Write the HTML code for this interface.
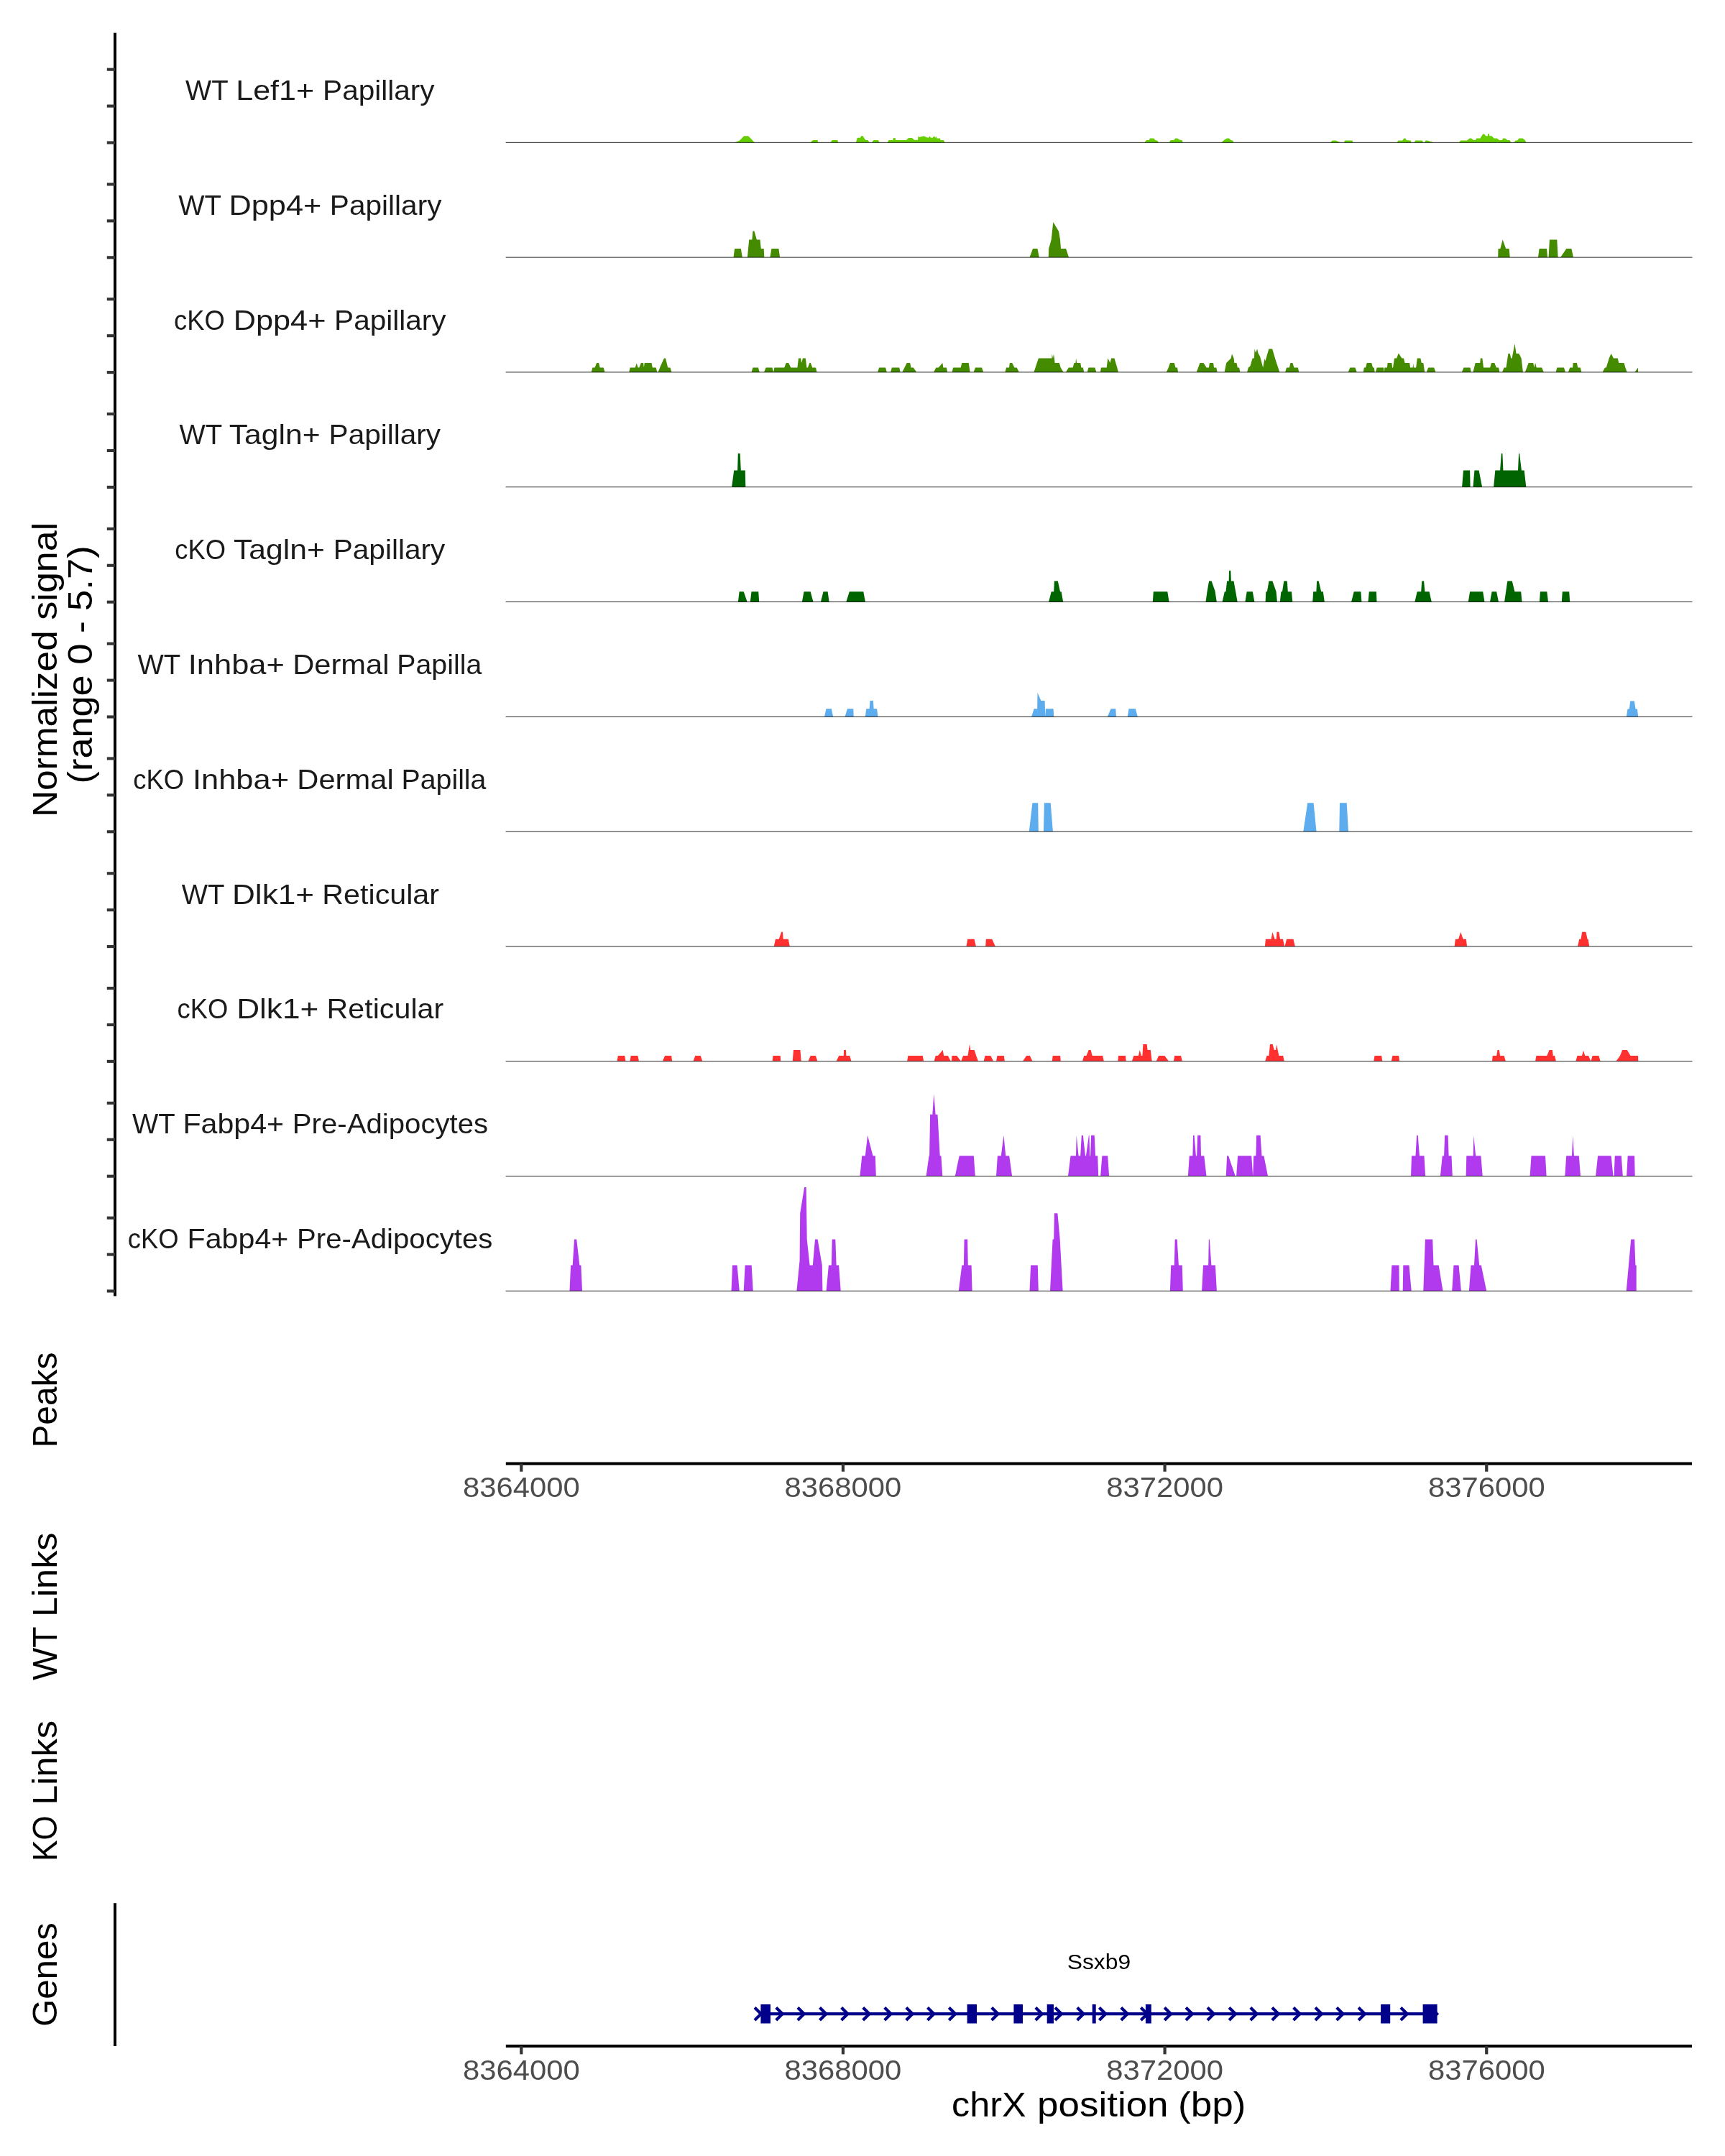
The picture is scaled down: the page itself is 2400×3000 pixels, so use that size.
<!DOCTYPE html>
<html><head><meta charset="utf-8"><title>Coverage plot</title>
<style>html,body{margin:0;padding:0;background:#fff}svg{display:block;will-change:transform}</style>
</head><body>
<svg width="2400" height="3000" viewBox="0 0 2400 3000" font-family="'Liberation Sans', sans-serif">
<rect width="2400" height="3000" fill="#fff"/>
<rect x="158" y="45.7" width="4" height="1757.8" fill="#000"/>
<rect x="148.8" y="196.44" width="11.2" height="4.1" fill="#333"/>
<rect x="148.8" y="145.53" width="11.2" height="4.1" fill="#333"/>
<rect x="148.8" y="94.62" width="11.2" height="4.1" fill="#333"/>
<rect x="148.8" y="356.24" width="11.2" height="4.1" fill="#333"/>
<rect x="148.8" y="305.33" width="11.2" height="4.1" fill="#333"/>
<rect x="148.8" y="254.42" width="11.2" height="4.1" fill="#333"/>
<rect x="148.8" y="516.04" width="11.2" height="4.1" fill="#333"/>
<rect x="148.8" y="465.13" width="11.2" height="4.1" fill="#333"/>
<rect x="148.8" y="414.22" width="11.2" height="4.1" fill="#333"/>
<rect x="148.8" y="675.84" width="11.2" height="4.1" fill="#333"/>
<rect x="148.8" y="624.93" width="11.2" height="4.1" fill="#333"/>
<rect x="148.8" y="574.02" width="11.2" height="4.1" fill="#333"/>
<rect x="148.8" y="835.64" width="11.2" height="4.1" fill="#333"/>
<rect x="148.8" y="784.73" width="11.2" height="4.1" fill="#333"/>
<rect x="148.8" y="733.82" width="11.2" height="4.1" fill="#333"/>
<rect x="148.8" y="995.44" width="11.2" height="4.1" fill="#333"/>
<rect x="148.8" y="944.53" width="11.2" height="4.1" fill="#333"/>
<rect x="148.8" y="893.62" width="11.2" height="4.1" fill="#333"/>
<rect x="148.8" y="1155.24" width="11.2" height="4.1" fill="#333"/>
<rect x="148.8" y="1104.33" width="11.2" height="4.1" fill="#333"/>
<rect x="148.8" y="1053.42" width="11.2" height="4.1" fill="#333"/>
<rect x="148.8" y="1315.04" width="11.2" height="4.1" fill="#333"/>
<rect x="148.8" y="1264.13" width="11.2" height="4.1" fill="#333"/>
<rect x="148.8" y="1213.22" width="11.2" height="4.1" fill="#333"/>
<rect x="148.8" y="1474.84" width="11.2" height="4.1" fill="#333"/>
<rect x="148.8" y="1423.93" width="11.2" height="4.1" fill="#333"/>
<rect x="148.8" y="1373.02" width="11.2" height="4.1" fill="#333"/>
<rect x="148.8" y="1634.64" width="11.2" height="4.1" fill="#333"/>
<rect x="148.8" y="1583.73" width="11.2" height="4.1" fill="#333"/>
<rect x="148.8" y="1532.82" width="11.2" height="4.1" fill="#333"/>
<rect x="148.8" y="1794.44" width="11.2" height="4.1" fill="#333"/>
<rect x="148.8" y="1743.53" width="11.2" height="4.1" fill="#333"/>
<rect x="148.8" y="1692.62" width="11.2" height="4.1" fill="#333"/>
<text transform="translate(431.50,139.00)" font-size="37.95" fill="#1a1a1a"><tspan x="-173.62" textLength="59.02" lengthAdjust="spacingAndGlyphs">WT</tspan> <tspan x="-103.32" textLength="109.04" lengthAdjust="spacingAndGlyphs">Lef1+</tspan> <tspan x="17.62" textLength="155.55" lengthAdjust="spacingAndGlyphs">Papillary</tspan></text>
<text transform="translate(431.50,298.80)" font-size="37.95" fill="#1a1a1a"><tspan x="-183.38" textLength="59.02" lengthAdjust="spacingAndGlyphs">WT</tspan> <tspan x="-113.08" textLength="128.88" lengthAdjust="spacingAndGlyphs">Dpp4+</tspan> <tspan x="27.38" textLength="155.55" lengthAdjust="spacingAndGlyphs">Papillary</tspan></text>
<text transform="translate(431.50,458.60)" font-size="37.95" fill="#1a1a1a"><tspan x="-189.58" textLength="70.82" lengthAdjust="spacingAndGlyphs">cKO</tspan> <tspan x="-106.88" textLength="128.88" lengthAdjust="spacingAndGlyphs">Dpp4+</tspan> <tspan x="33.58" textLength="155.55" lengthAdjust="spacingAndGlyphs">Papillary</tspan></text>
<text transform="translate(431.50,618.40)" font-size="37.95" fill="#1a1a1a"><tspan x="-182.08" textLength="59.02" lengthAdjust="spacingAndGlyphs">WT</tspan> <tspan x="-112.78" textLength="126.89" lengthAdjust="spacingAndGlyphs">Tagln+</tspan> <tspan x="26.08" textLength="155.55" lengthAdjust="spacingAndGlyphs">Papillary</tspan></text>
<text transform="translate(431.50,778.20)" font-size="37.95" fill="#1a1a1a"><tspan x="-188.28" textLength="70.82" lengthAdjust="spacingAndGlyphs">cKO</tspan> <tspan x="-106.58" textLength="126.89" lengthAdjust="spacingAndGlyphs">Tagln+</tspan> <tspan x="32.28" textLength="155.55" lengthAdjust="spacingAndGlyphs">Papillary</tspan></text>
<text transform="translate(431.50,938.00)" font-size="37.95" fill="#1a1a1a"><tspan x="-240.07" textLength="59.02" lengthAdjust="spacingAndGlyphs">WT</tspan> <tspan x="-169.77" textLength="134.16" lengthAdjust="spacingAndGlyphs">Inhba+</tspan> <tspan x="-24.38" textLength="134.34" lengthAdjust="spacingAndGlyphs">Dermal</tspan> <tspan x="120.84" textLength="117.92" lengthAdjust="spacingAndGlyphs">Papilla</tspan></text>
<text transform="translate(431.50,1097.80)" font-size="37.95" fill="#1a1a1a"><tspan x="-246.27" textLength="70.82" lengthAdjust="spacingAndGlyphs">cKO</tspan> <tspan x="-163.57" textLength="134.16" lengthAdjust="spacingAndGlyphs">Inhba+</tspan> <tspan x="-18.18" textLength="134.34" lengthAdjust="spacingAndGlyphs">Dermal</tspan> <tspan x="127.04" textLength="117.92" lengthAdjust="spacingAndGlyphs">Papilla</tspan></text>
<text transform="translate(431.50,1257.60)" font-size="37.95" fill="#1a1a1a"><tspan x="-178.85" textLength="59.02" lengthAdjust="spacingAndGlyphs">WT</tspan> <tspan x="-108.55" textLength="114.11" lengthAdjust="spacingAndGlyphs">Dlk1+</tspan> <tspan x="16.79" textLength="162.76" lengthAdjust="spacingAndGlyphs">Reticular</tspan></text>
<text transform="translate(431.50,1417.40)" font-size="37.95" fill="#1a1a1a"><tspan x="-185.05" textLength="70.82" lengthAdjust="spacingAndGlyphs">cKO</tspan> <tspan x="-102.35" textLength="114.11" lengthAdjust="spacingAndGlyphs">Dlk1+</tspan> <tspan x="22.99" textLength="162.76" lengthAdjust="spacingAndGlyphs">Reticular</tspan></text>
<text transform="translate(431.50,1577.20)" font-size="37.95" fill="#1a1a1a"><tspan x="-247.43" textLength="59.02" lengthAdjust="spacingAndGlyphs">WT</tspan> <tspan x="-177.13" textLength="140.76" lengthAdjust="spacingAndGlyphs">Fabp4+</tspan> <tspan x="-24.71" textLength="272.41" lengthAdjust="spacingAndGlyphs">Pre-Adipocytes</tspan></text>
<text transform="translate(431.50,1737.00)" font-size="37.95" fill="#1a1a1a"><tspan x="-253.63" textLength="70.82" lengthAdjust="spacingAndGlyphs">cKO</tspan> <tspan x="-170.93" textLength="140.76" lengthAdjust="spacingAndGlyphs">Fabp4+</tspan> <tspan x="-18.51" textLength="272.41" lengthAdjust="spacingAndGlyphs">Pre-Adipocytes</tspan></text>
<path d="M1022.2 198.3 L1028.7 195.7 L1035.2 189.2 L1041.0 189.2 L1044.9 193.1 L1049.8 198.3Z M1127.7 198.3 L1131.0 195.0 L1137.5 195.0 L1138.1 198.3Z M1155.3 198.3 L1157.9 195.0 L1165.4 195.0 L1166.0 198.3Z M1191.0 198.3 L1192.7 191.8 L1196.9 191.8 L1198.2 189.2 L1200.8 189.2 L1202.4 192.4 L1204.7 195.0 L1207.3 195.0 L1209.9 198.3Z M1213.1 198.3 L1215.4 195.0 L1221.9 195.0 L1223.5 198.3Z M1234.9 198.3 L1236.5 195.0 L1242.3 195.0 L1243.0 192.1 L1245.6 192.1 L1246.2 195.0 L1260.8 195.0 L1264.1 192.1 L1269.0 192.1 L1272.2 194.7 L1277.1 194.7 L1277.4 189.2 L1278.7 191.1 L1285.2 189.2 L1290.1 191.5 L1292.3 191.5 L1293.3 189.2 L1294.9 191.5 L1297.5 191.8 L1299.8 189.2 L1301.4 191.8 L1302.4 189.2 L1303.4 192.4 L1307.9 192.4 L1308.6 195.0 L1312.8 195.0 L1314.4 198.3Z M1592.5 198.3 L1595.1 195.0 L1599.0 195.0 L1599.6 192.4 L1605.5 192.4 L1607.1 195.0 L1610.3 195.7 L1611.9 198.3Z M1626.6 198.3 L1628.8 195.0 L1633.1 195.0 L1635.3 192.4 L1637.9 192.4 L1641.2 194.4 L1644.4 195.0 L1645.7 198.3Z M1699.6 198.3 L1702.9 195.0 L1706.8 192.4 L1710.0 192.4 L1712.6 195.0 L1715.2 195.7 L1716.5 198.3Z M1851.2 198.3 L1853.8 195.4 L1858.1 195.4 L1865.2 198.3Z M1870.1 198.3 L1871.0 195.4 L1881.4 195.4 L1882.4 198.3Z M1943.8 198.3 L1945.4 195.4 L1951.2 195.4 L1953.5 192.4 L1955.5 192.4 L1956.8 195.0 L1962.6 195.4 L1963.6 198.3Z M1967.8 198.3 L1969.1 195.4 L1978.8 195.4 L1980.1 198.3Z M1982.1 198.3 L1983.4 195.4 L1986.0 195.4 L1994.4 198.3Z M2029.8 198.3 L2032.4 195.4 L2041.2 195.4 L2044.4 192.4 L2047.0 192.4 L2050.3 195.0 L2052.9 195.0 L2054.2 192.4 L2059.4 192.4 L2063.2 186.6 L2065.2 186.6 L2067.1 189.2 L2069.7 189.2 L2070.4 186.0 L2071.7 186.0 L2072.3 189.2 L2075.6 189.2 L2078.5 192.4 L2082.7 192.4 L2086.0 195.0 L2089.9 195.0 L2091.2 192.4 L2094.1 192.4 L2097.3 195.0 L2100.6 195.0 L2102.2 198.3Z M2106.2 198.3 L2108.8 195.4 L2111.1 195.4 L2113.4 192.4 L2118.6 192.4 L2121.8 195.0 L2123.4 198.3Z" fill="#66CD00"/>
<rect x="703.6" y="197.86" width="1650.9" height="0.86" fill="#000"/>
<path d="M1020.5 358.1 L1022.1 346.1 L1030.8 346.1 L1032.8 358.1Z M1039.9 358.1 L1042.2 333.4 L1046.4 333.4 L1047.4 321.4 L1049.4 321.4 L1052.9 333.4 L1057.5 333.4 L1058.8 346.1 L1062.7 346.1 L1063.3 358.1Z M1071.4 358.1 L1073.4 346.1 L1083.4 346.1 L1085.1 358.1Z M1432.5 358.1 L1437.0 346.1 L1443.5 346.1 L1445.8 358.1Z M1458.8 358.1 L1459.1 346.1 L1462.7 333.4 L1465.3 309.1 L1473.1 322.1 L1475.0 333.4 L1476.0 346.1 L1483.1 346.1 L1487.0 358.1Z M2084.2 358.1 L2084.5 346.1 L2087.4 346.1 L2090.6 333.4 L2095.2 346.1 L2099.7 346.1 L2100.7 358.1Z M2140.0 358.1 L2141.6 346.1 L2152.0 346.1 L2153.0 358.1Z M2154.6 358.1 L2155.9 333.4 L2166.3 333.4 L2167.6 358.1Z M2171.2 358.1 L2179.3 346.1 L2186.4 346.1 L2189.0 358.1Z" fill="#458B00"/>
<rect x="703.6" y="357.66" width="1650.9" height="0.86" fill="#000"/>
<path d="M822.7 517.9 L824.4 511.4 L827.6 511.4 L830.2 504.9 L833.1 504.9 L834.7 511.4 L839.6 511.4 L841.6 517.9Z M875.3 517.9 L876.6 511.4 L883.8 511.4 L885.7 505.6 L887.7 511.4 L889.3 511.4 L891.9 504.9 L895.1 504.9 L895.8 511.4 L896.8 504.9 L906.5 504.9 L907.8 511.4 L912.7 511.4 L914.3 517.9Z M915.6 517.9 L918.5 510.4 L924.0 498.4 L926.0 498.4 L929.2 511.4 L932.5 511.4 L934.4 517.9Z M1045.5 517.9 L1047.4 511.4 L1054.9 511.4 L1056.8 517.9Z M1063.0 517.9 L1065.6 511.4 L1074.4 511.4 L1076.3 517.9 L1077.3 511.4 L1091.2 511.4 L1093.8 504.9 L1097.1 504.9 L1100.3 511.4 L1109.4 511.4 L1111.0 498.4 L1114.0 498.4 L1115.3 504.9 L1116.9 498.4 L1120.8 498.4 L1122.4 511.4 L1124.0 511.4 L1126.3 504.9 L1127.9 504.9 L1130.2 511.4 L1135.1 511.4 L1136.4 517.9Z M1221.1 517.9 L1223.1 511.4 L1232.1 511.4 L1233.8 517.9Z M1239.0 517.9 L1240.9 511.4 L1251.3 511.4 L1252.6 517.9Z M1255.2 517.9 L1261.7 504.9 L1266.2 504.9 L1267.5 511.4 L1270.8 511.4 L1275.3 517.9Z M1299.0 517.9 L1302.3 511.4 L1305.8 511.4 L1311.4 504.9 L1312.3 511.4 L1316.9 511.4 L1318.2 517.9Z M1324.7 517.9 L1326.0 511.4 L1336.7 511.4 L1338.3 504.9 L1347.7 504.9 L1349.7 517.9Z M1354.6 517.9 L1356.9 511.4 L1366.0 511.4 L1368.2 517.9Z M1398.4 517.9 L1400.1 511.4 L1404.0 511.4 L1404.9 504.9 L1408.2 504.9 L1411.4 511.4 L1414.7 511.4 L1417.9 517.9Z M1438.4 517.9 L1444.9 498.4 L1463.4 498.4 L1463.7 492.6 L1465.0 498.4 L1466.0 492.6 L1466.9 498.4 L1467.6 504.9 L1473.8 504.9 L1475.7 511.4 L1478.0 515.3 L1479.6 517.9Z M1482.9 517.9 L1486.8 511.4 L1492.6 511.4 L1494.5 504.9 L1496.5 504.9 L1497.1 498.4 L1498.1 504.9 L1503.3 504.9 L1504.3 511.4 L1506.9 511.4 L1508.2 517.9Z M1512.7 517.9 L1514.4 511.4 L1523.4 511.4 L1525.4 517.9Z M1530.9 517.9 L1531.9 511.4 L1539.7 511.4 L1541.3 498.4 L1544.5 504.9 L1546.2 498.4 L1550.4 498.4 L1554.3 511.4 L1555.9 517.9Z M1622.8 517.9 L1625.7 511.4 L1628.0 504.9 L1633.8 504.9 L1635.5 511.4 L1638.1 511.4 L1639.0 517.9Z M1664.7 517.9 L1669.5 504.9 L1674.4 504.9 L1678.6 511.4 L1681.9 511.4 L1682.9 504.9 L1688.1 504.9 L1689.0 511.4 L1692.3 511.4 L1693.6 517.9Z M1703.6 517.9 L1706.2 504.9 L1712.7 498.4 L1714.0 492.6 L1716.6 498.4 L1717.3 504.9 L1720.5 504.9 L1721.8 511.4 L1724.1 511.4 L1725.4 517.9Z M1735.1 517.9 L1736.8 511.4 L1739.4 509.4 L1742.6 498.4 L1744.9 498.4 L1745.5 485.4 L1747.1 490.9 L1749.1 485.4 L1750.7 491.9 L1753.0 495.8 L1757.2 511.4 L1759.5 499.1 L1760.5 502.3 L1765.3 485.4 L1770.2 485.4 L1775.1 502.3 L1778.3 511.4 L1780.3 517.9Z M1788.1 517.9 L1790.0 511.4 L1793.9 511.4 L1795.5 504.9 L1798.4 504.9 L1800.4 511.4 L1805.9 511.4 L1807.2 517.9Z M1875.7 517.9 L1878.3 511.4 L1885.5 511.4 L1887.7 517.9Z M1896.8 517.9 L1897.8 511.4 L1900.1 511.4 L1901.7 504.9 L1908.2 504.9 L1910.1 511.4 L1911.8 511.4 L1912.7 517.9Z M1914.0 517.9 L1915.6 511.4 L1925.1 511.4 L1925.7 517.9 L1926.4 511.4 L1929.9 511.4 L1930.6 504.9 L1936.4 504.9 L1937.1 511.4 L1938.1 511.4 L1940.0 498.4 L1943.2 498.4 L1945.8 491.6 L1950.4 498.4 L1953.0 498.4 L1954.6 504.9 L1961.1 504.9 L1962.1 511.4 L1965.6 511.4 L1966.3 505.6 L1966.9 511.4 L1970.2 511.4 L1971.8 498.4 L1976.4 498.4 L1977.7 504.9 L1980.3 504.9 L1982.2 517.9Z M1984.8 517.9 L1987.1 511.4 L1995.2 511.4 L1997.5 517.9Z M2033.8 517.9 L2036.4 511.4 L2045.5 511.4 L2046.8 517.9Z M2049.4 517.9 L2052.7 504.9 L2059.2 504.9 L2059.8 498.4 L2062.4 498.4 L2064.0 511.4 L2073.1 511.4 L2075.1 504.9 L2079.3 504.9 L2081.9 511.4 L2085.1 511.4 L2086.4 517.9Z M2090.0 517.9 L2092.6 511.4 L2095.5 511.4 L2098.4 491.9 L2100.7 491.9 L2102.3 498.4 L2103.6 498.4 L2107.5 478.3 L2109.5 491.9 L2113.4 491.9 L2116.6 498.4 L2118.2 511.4 L2118.9 517.9Z M2121.8 517.9 L2126.7 504.9 L2133.2 504.9 L2134.5 511.4 L2136.1 504.9 L2137.7 511.4 L2145.2 511.4 L2147.8 517.9Z M2164.7 517.9 L2166.3 511.4 L2176.0 511.4 L2178.0 517.9Z M2181.9 517.9 L2184.2 511.4 L2188.1 511.4 L2188.7 504.9 L2193.9 504.9 L2195.2 511.4 L2198.8 511.4 L2200.4 517.9Z M2229.6 517.9 L2232.9 511.4 L2234.8 511.4 L2238.7 498.4 L2241.6 491.9 L2244.9 498.4 L2250.7 498.4 L2252.3 504.9 L2259.5 504.9 L2261.4 511.4 L2263.7 517.9Z M2274.4 517.9 L2279.0 511.4 L2279.0 517.9Z" fill="#458B00"/>
<rect x="703.6" y="517.46" width="1650.9" height="0.86" fill="#000"/>
<path d="M1018.1 677.7 L1021.2 654.5 L1026.1 654.5 L1026.8 630.9 L1029.7 630.9 L1030.8 654.5 L1036.8 654.5 L1037.3 677.7Z M2034.1 677.7 L2036.0 654.5 L2045.1 654.5 L2045.6 677.7Z M2049.5 677.7 L2051.4 654.5 L2057.6 654.5 L2062.1 677.7Z M2078.1 677.7 L2080.3 654.5 L2087.1 654.5 L2088.8 630.9 L2090.4 630.9 L2091.4 654.5 L2112.0 654.5 L2113.1 630.9 L2114.1 630.9 L2116.9 654.5 L2120.7 654.5 L2123.3 677.7Z" fill="#006400"/>
<rect x="703.6" y="677.26" width="1650.9" height="0.86" fill="#000"/>
<path d="M1026.9 837.5 L1028.6 823.2 L1034.7 823.2 L1039.6 837.5Z M1043.8 837.5 L1045.5 823.2 L1055.2 823.2 L1056.2 837.5Z M1115.9 837.5 L1118.5 823.2 L1127.6 823.2 L1131.5 837.5Z M1141.9 837.5 L1145.5 823.2 L1151.6 823.2 L1153.6 837.5Z M1177.3 837.5 L1181.8 823.2 L1201.3 823.2 L1203.9 837.5Z M1459.1 837.5 L1462.7 823.2 L1466.2 823.2 L1466.9 808.6 L1471.8 808.6 L1475.0 823.2 L1476.6 823.2 L1479.2 837.5Z M1603.8 837.5 L1604.8 823.2 L1624.3 823.2 L1626.6 837.5Z M1677.5 837.5 L1679.5 823.2 L1682.1 808.6 L1685.6 808.6 L1690.5 822.2 L1692.8 837.5Z M1700.6 837.5 L1703.8 823.2 L1705.5 823.2 L1707.1 808.6 L1709.7 808.6 L1710.0 794.0 L1712.3 794.0 L1712.9 808.6 L1716.5 808.6 L1721.7 837.5Z M1732.4 837.5 L1734.7 823.2 L1742.8 823.2 L1745.4 837.5Z M1760.6 837.5 L1761.3 823.2 L1762.9 823.2 L1765.5 808.6 L1770.4 808.6 L1775.6 823.2 L1776.9 837.5Z M1780.8 837.5 L1782.4 823.2 L1784.0 823.2 L1786.3 808.6 L1790.8 808.6 L1791.8 823.2 L1797.0 823.2 L1798.3 837.5Z M1826.2 837.5 L1827.2 823.2 L1831.4 823.2 L1832.1 808.6 L1834.7 808.6 L1838.2 823.2 L1840.8 823.2 L1842.8 837.5Z M1880.1 837.5 L1883.7 823.2 L1893.4 823.2 L1894.4 837.5Z M1903.5 837.5 L1904.8 823.2 L1914.9 823.2 L1915.5 837.5Z M1968.4 837.5 L1971.7 823.2 L1977.2 823.2 L1978.2 808.6 L1981.1 808.6 L1982.4 823.2 L1988.6 823.2 L1991.8 837.5Z M2042.8 837.5 L2045.1 823.2 L2063.2 823.2 L2065.5 837.5Z M2073.0 837.5 L2075.6 823.2 L2082.1 823.2 L2085.0 837.5Z M2093.1 837.5 L2097.3 808.6 L2103.8 808.6 L2107.4 823.2 L2116.2 823.2 L2117.5 837.5Z M2141.9 837.5 L2142.9 823.2 L2152.3 823.2 L2154.0 837.5Z M2172.8 837.5 L2173.8 823.2 L2183.2 823.2 L2184.2 837.5Z" fill="#006400"/>
<rect x="703.6" y="837.06" width="1650.9" height="0.86" fill="#000"/>
<path d="M1147.1 997.3 L1149.4 986.3 L1156.8 986.3 L1159.1 997.3Z M1175.6 997.3 L1178.9 986.3 L1187.3 986.3 L1187.7 997.3Z M1203.9 997.3 L1205.2 986.3 L1209.7 986.3 L1210.4 974.9 L1214.9 974.9 L1215.6 986.3 L1220.1 986.3 L1221.4 997.3Z M1435.1 997.3 L1438.6 986.3 L1443.2 986.3 L1443.5 963.8 L1448.4 974.9 L1453.6 974.9 L1454.2 997.3 L1454.9 986.3 L1465.6 986.3 L1466.2 997.3Z M1540.9 997.3 L1545.5 986.3 L1552.3 986.3 L1552.9 997.3Z M1568.8 997.3 L1570.5 986.3 L1579.9 986.3 L1582.8 997.3Z M2262.9 997.3 L2264.5 986.4 L2266.9 986.4 L2268.2 975.4 L2273.9 975.4 L2275.5 986.4 L2278.0 986.4 L2279.1 997.3Z" fill="#5CACEE"/>
<rect x="703.6" y="996.86" width="1650.9" height="0.86" fill="#000"/>
<path d="M1431.8 1157.1 L1436.4 1117.2 L1444.2 1117.2 L1444.8 1157.1Z M1451.9 1157.1 L1452.9 1117.2 L1461.7 1117.2 L1464.9 1157.1Z M1813.3 1157.1 L1819.2 1117.2 L1827.6 1117.2 L1831.5 1157.1Z M1863.3 1157.1 L1864.0 1117.2 L1873.7 1117.2 L1876.0 1157.1Z" fill="#5CACEE"/>
<rect x="703.6" y="1156.66" width="1650.9" height="0.86" fill="#000"/>
<path d="M1076.7 1316.9 L1079.0 1306.8 L1083.8 1306.8 L1087.1 1296.8 L1089.0 1296.8 L1089.7 1306.8 L1096.8 1306.8 L1098.8 1316.9Z M1344.5 1316.9 L1346.2 1306.8 L1355.6 1306.8 L1357.9 1316.9Z M1371.2 1316.9 L1371.8 1306.8 L1380.3 1306.8 L1384.8 1316.9Z M1759.9 1316.9 L1760.9 1306.8 L1768.7 1306.8 L1770.3 1297.1 L1773.6 1306.8 L1775.8 1306.8 L1776.5 1296.8 L1779.4 1296.8 L1781.0 1306.8 L1784.9 1306.8 L1787.2 1316.9Z M1787.5 1316.9 L1790.1 1306.8 L1799.5 1306.8 L1801.8 1316.9Z M2023.6 1316.9 L2024.9 1306.8 L2029.1 1306.8 L2032.3 1297.1 L2035.6 1306.8 L2039.8 1306.8 L2041.1 1316.9Z M2195.0 1316.9 L2197.3 1306.8 L2199.5 1306.8 L2201.2 1296.8 L2206.4 1296.8 L2208.6 1306.8 L2209.6 1306.8 L2211.2 1316.9Z" fill="#FF3030"/>
<rect x="703.6" y="1316.46" width="1650.9" height="0.86" fill="#000"/>
<path d="M858.5 1476.7 L859.8 1468.9 L869.2 1468.9 L870.5 1476.7Z M876.4 1476.7 L877.7 1468.9 L887.4 1468.9 L889.0 1476.7Z M921.8 1476.7 L925.1 1468.9 L934.2 1468.9 L935.1 1476.7Z M964.4 1476.7 L967.3 1468.9 L974.7 1468.9 L977.3 1476.7Z M1074.7 1476.7 L1075.4 1468.9 L1085.8 1468.9 L1086.1 1476.7Z M1102.7 1476.7 L1104.0 1461.1 L1113.4 1461.1 L1114.7 1476.7Z M1124.4 1476.7 L1127.7 1468.9 L1134.8 1468.9 L1137.4 1476.7Z M1163.4 1476.7 L1167.3 1468.9 L1173.8 1468.9 L1174.1 1461.1 L1177.0 1461.1 L1177.3 1468.9 L1182.2 1468.9 L1184.5 1476.7Z M1262.1 1476.7 L1263.4 1468.9 L1283.8 1468.9 L1285.1 1476.7Z M1299.7 1476.7 L1301.7 1468.9 L1304.9 1468.9 L1311.8 1461.1 L1313.1 1468.9 L1318.9 1468.9 L1322.8 1476.7Z M1323.8 1476.7 L1324.4 1468.9 L1331.2 1468.9 L1337.1 1476.7 L1340.0 1468.9 L1346.5 1468.9 L1349.1 1453.0 L1350.4 1461.1 L1355.6 1461.1 L1358.2 1468.9 L1361.1 1476.7Z M1368.6 1476.7 L1370.5 1468.9 L1378.3 1468.9 L1382.2 1476.7Z M1386.1 1476.7 L1387.4 1468.9 L1396.8 1468.9 L1397.8 1476.7Z M1422.9 1476.7 L1428.1 1468.9 L1432.9 1468.9 L1436.5 1476.7Z M1463.8 1476.7 L1464.7 1468.9 L1475.1 1468.9 L1475.8 1476.7Z M1506.0 1476.7 L1508.2 1468.9 L1511.5 1468.9 L1514.7 1461.1 L1517.7 1461.1 L1519.6 1468.9 L1534.2 1468.9 L1535.8 1476.7Z M1555.3 1476.7 L1556.0 1468.9 L1566.0 1468.9 L1566.7 1476.7Z M1574.8 1476.7 L1577.4 1468.9 L1583.9 1468.9 L1585.8 1461.1 L1587.8 1468.9 L1589.4 1468.9 L1590.4 1453.0 L1595.6 1453.0 L1596.6 1461.1 L1600.8 1461.1 L1602.7 1476.7Z M1608.6 1476.7 L1612.1 1468.9 L1620.3 1468.9 L1626.1 1476.7Z M1632.9 1476.7 L1634.2 1468.9 L1643.0 1468.9 L1644.9 1476.7Z M1760.2 1476.7 L1762.5 1468.9 L1765.4 1468.9 L1767.0 1453.0 L1770.6 1453.0 L1772.9 1461.1 L1775.1 1461.1 L1776.1 1453.6 L1779.4 1468.9 L1785.2 1468.9 L1786.8 1476.7Z M1911.2 1476.7 L1912.5 1468.9 L1922.2 1468.9 L1923.2 1476.7Z M1935.8 1476.7 L1937.4 1468.9 L1946.2 1468.9 L1947.1 1476.7Z M2076.0 1476.7 L2076.7 1468.9 L2082.2 1468.9 L2083.5 1461.1 L2085.8 1461.1 L2087.1 1468.9 L2092.6 1468.9 L2094.9 1476.7Z M2136.1 1476.7 L2137.4 1468.9 L2152.3 1468.9 L2155.6 1461.1 L2159.8 1461.1 L2160.8 1468.9 L2163.1 1468.9 L2165.0 1476.7Z M2192.3 1476.7 L2194.5 1468.9 L2201.0 1468.9 L2203.0 1461.8 L2205.3 1468.9 L2210.1 1468.9 L2213.4 1476.7 L2215.6 1468.9 L2224.4 1468.9 L2226.7 1476.7Z M2248.4 1476.7 L2254.0 1468.9 L2257.2 1461.1 L2263.7 1461.1 L2268.6 1468.9 L2279.0 1468.9 L2279.3 1476.7Z" fill="#FF3030"/>
<rect x="703.6" y="1476.26" width="1650.9" height="0.86" fill="#000"/>
<path d="M1196.4 1636.5 L1199.3 1608.2 L1203.8 1608.2 L1207.1 1579.7 L1214.5 1608.2 L1217.8 1608.2 L1218.8 1636.5Z M1288.6 1636.5 L1292.5 1608.2 L1293.1 1608.2 L1294.1 1550.8 L1297.3 1550.8 L1299.3 1521.9 L1301.6 1550.8 L1304.5 1550.8 L1307.7 1608.2 L1309.4 1608.2 L1311.3 1636.5Z M1328.8 1636.5 L1334.7 1608.2 L1354.8 1608.2 L1356.8 1636.5Z M1386.0 1636.5 L1387.9 1608.2 L1392.8 1608.2 L1396.4 1579.7 L1399.3 1608.2 L1404.2 1608.2 L1408.1 1636.5Z M1486.0 1636.5 L1489.5 1608.2 L1497.0 1608.2 L1497.7 1579.7 L1500.6 1608.2 L1503.2 1608.2 L1504.8 1579.7 L1506.8 1579.7 L1510.0 1608.2 L1511.0 1608.2 L1514.9 1579.7 L1515.5 1579.7 L1516.2 1608.2 L1517.1 1608.2 L1518.1 1579.7 L1522.7 1579.7 L1524.0 1608.2 L1527.2 1608.2 L1528.2 1636.5Z M1531.1 1636.5 L1533.4 1608.2 L1541.2 1608.2 L1543.1 1636.5Z M1652.9 1636.5 L1654.8 1608.2 L1659.4 1608.2 L1660.0 1579.7 L1661.6 1579.7 L1663.9 1608.2 L1665.2 1608.2 L1666.2 1579.7 L1670.4 1579.7 L1671.0 1608.2 L1675.3 1608.2 L1678.5 1636.5Z M1705.8 1636.5 L1707.1 1608.2 L1709.1 1608.2 L1718.8 1636.5Z M1720.1 1636.5 L1722.1 1608.2 L1741.2 1608.2 L1743.2 1636.5 L1744.2 1608.2 L1747.4 1608.2 L1748.1 1579.7 L1753.6 1579.7 L1755.5 1608.2 L1758.4 1608.2 L1764.0 1636.5Z M1963.0 1636.5 L1964.0 1608.2 L1969.5 1608.2 L1971.1 1579.7 L1972.7 1579.7 L1975.0 1608.2 L1981.5 1608.2 L1983.1 1636.5Z M2003.9 1636.5 L2006.8 1608.2 L2009.1 1608.2 L2010.1 1579.7 L2014.6 1579.7 L2015.6 1608.2 L2019.5 1608.2 L2020.8 1636.5Z M2039.6 1636.5 L2040.3 1608.2 L2049.7 1608.2 L2050.3 1580.3 L2053.2 1608.2 L2060.4 1608.2 L2062.7 1636.5Z M2128.6 1636.5 L2130.5 1608.2 L2150.0 1608.2 L2151.6 1636.5Z M2177.3 1636.5 L2179.2 1608.2 L2187.0 1608.2 L2188.3 1580.3 L2189.9 1608.2 L2196.8 1608.2 L2199.0 1636.5Z M2220.1 1636.5 L2223.1 1608.2 L2241.6 1608.2 L2244.5 1636.5Z M2245.5 1636.5 L2246.8 1608.2 L2255.8 1608.2 L2257.8 1636.5Z M2263.1 1636.5 L2264.7 1608.2 L2274.1 1608.2 L2274.7 1636.5Z" fill="#B23AEE"/>
<rect x="703.6" y="1636.06" width="1650.9" height="0.86" fill="#000"/>
<path d="M792.5 1796.3 L794.1 1760.6 L796.7 1760.6 L799.0 1724.5 L802.2 1724.5 L806.4 1760.6 L808.4 1760.6 L810.0 1796.3Z M1017.5 1796.3 L1019.1 1760.6 L1025.6 1760.6 L1028.8 1796.3Z M1034.7 1796.3 L1036.6 1760.6 L1045.7 1760.6 L1047.7 1796.3Z M1108.4 1796.3 L1112.6 1753.8 L1113.2 1688.2 L1119.1 1652.1 L1121.7 1652.1 L1122.7 1724.5 L1126.6 1760.6 L1130.8 1760.6 L1134.0 1724.5 L1137.6 1724.5 L1143.8 1760.6 L1144.4 1796.3Z M1149.6 1796.3 L1152.9 1760.6 L1156.8 1760.6 L1157.7 1724.5 L1162.3 1724.5 L1163.6 1760.6 L1167.1 1760.6 L1169.7 1796.3Z M1333.8 1796.3 L1338.3 1760.6 L1340.9 1760.6 L1341.6 1724.5 L1346.1 1724.5 L1346.8 1760.6 L1351.6 1760.6 L1352.6 1796.3Z M1432.5 1796.3 L1434.1 1760.6 L1443.8 1760.6 L1444.8 1796.3Z M1461.0 1796.3 L1464.6 1724.5 L1466.2 1724.5 L1466.9 1688.2 L1471.4 1688.2 L1474.7 1724.5 L1478.6 1796.3Z M1627.9 1796.3 L1629.2 1760.6 L1633.8 1760.6 L1634.7 1724.5 L1637.7 1724.5 L1639.9 1760.6 L1644.8 1760.6 L1645.8 1796.3Z M1672.1 1796.3 L1674.0 1760.6 L1681.2 1760.6 L1681.8 1724.5 L1682.8 1724.5 L1685.4 1760.6 L1690.9 1760.6 L1692.9 1796.3Z M1934.5 1796.3 L1936.4 1760.6 L1946.5 1760.6 L1946.8 1796.3Z M1951.7 1796.3 L1952.3 1760.6 L1960.5 1760.6 L1963.7 1796.3Z M1980.3 1796.3 L1982.9 1724.5 L1993.2 1724.5 L1994.5 1760.6 L2001.7 1760.6 L2007.5 1796.3Z M2020.2 1796.3 L2022.5 1760.6 L2029.6 1760.6 L2032.9 1796.3Z M2043.9 1796.3 L2046.5 1760.6 L2051.0 1760.6 L2053.0 1724.5 L2054.6 1724.5 L2058.2 1760.6 L2060.8 1760.6 L2068.2 1796.3Z M2262.7 1796.3 L2269.2 1724.5 L2274.1 1724.5 L2275.4 1760.6 L2276.7 1760.6 L2276.7 1796.3Z" fill="#B23AEE"/>
<rect x="703.6" y="1795.86" width="1650.9" height="0.86" fill="#000"/>
<text transform="translate(78.70,932.10) rotate(-90)" font-size="47.43" fill="#000"><tspan x="-205.00" textLength="259.81" lengthAdjust="spacingAndGlyphs">Normalized</tspan> <tspan x="69.44" textLength="135.90" lengthAdjust="spacingAndGlyphs">signal</tspan></text>
<text transform="translate(127.70,924.80) rotate(-90)" font-size="47.43" fill="#000"><tspan x="-165.62" textLength="151.10" lengthAdjust="spacingAndGlyphs">(range</tspan> <tspan x="0.06" textLength="29.42" lengthAdjust="spacingAndGlyphs">0</tspan> <tspan x="43.78" textLength="16.78" lengthAdjust="spacingAndGlyphs">-</tspan> <tspan x="74.88" textLength="90.69" lengthAdjust="spacingAndGlyphs">5.7)</tspan></text>
<text transform="translate(79.00,1948.20) rotate(-90)" font-size="47.43" fill="#000"><tspan x="-66.34" textLength="132.81" lengthAdjust="spacingAndGlyphs">Peaks</tspan></text>
<text transform="translate(79.00,2235.20) rotate(-90)" font-size="47.43" fill="#000"><tspan x="-102.80" textLength="73.73" lengthAdjust="spacingAndGlyphs">WT</tspan> <tspan x="-14.93" textLength="117.70" lengthAdjust="spacingAndGlyphs">Links</tspan></text>
<text transform="translate(79.00,2491.90) rotate(-90)" font-size="47.43" fill="#000"><tspan x="-97.96" textLength="63.55" lengthAdjust="spacingAndGlyphs">KO</tspan> <tspan x="-19.77" textLength="117.70" lengthAdjust="spacingAndGlyphs">Links</tspan></text>
<text transform="translate(79.00,2747.50) rotate(-90)" font-size="47.43" fill="#000"><tspan x="-72.41" textLength="144.72" lengthAdjust="spacingAndGlyphs">Genes</tspan></text>
<rect x="703.8" y="2034.55" width="1650.2" height="4.1" fill="#000"/>
<rect x="723.20" y="2036.60" width="4.2" height="11.10" fill="#333"/>
<text transform="translate(725.60,2083.00)" font-size="37.95" fill="#4d4d4d"><tspan x="-81.65" textLength="162.74" lengthAdjust="spacingAndGlyphs">8364000</tspan></text>
<rect x="1170.85" y="2036.60" width="4.2" height="11.10" fill="#333"/>
<text transform="translate(1173.25,2083.00)" font-size="37.95" fill="#4d4d4d"><tspan x="-81.65" textLength="162.74" lengthAdjust="spacingAndGlyphs">8368000</tspan></text>
<rect x="1618.50" y="2036.60" width="4.2" height="11.10" fill="#333"/>
<text transform="translate(1620.90,2083.00)" font-size="37.95" fill="#4d4d4d"><tspan x="-81.65" textLength="162.74" lengthAdjust="spacingAndGlyphs">8372000</tspan></text>
<rect x="2066.15" y="2036.60" width="4.2" height="11.10" fill="#333"/>
<text transform="translate(2068.55,2083.00)" font-size="37.95" fill="#4d4d4d"><tspan x="-81.65" textLength="162.74" lengthAdjust="spacingAndGlyphs">8376000</tspan></text>
<rect x="703.8" y="2845.05" width="1650.2" height="4.1" fill="#000"/>
<rect x="723.20" y="2847.10" width="4.2" height="11.30" fill="#333"/>
<text transform="translate(725.60,2894.30)" font-size="37.95" fill="#4d4d4d"><tspan x="-81.65" textLength="162.74" lengthAdjust="spacingAndGlyphs">8364000</tspan></text>
<rect x="1170.85" y="2847.10" width="4.2" height="11.30" fill="#333"/>
<text transform="translate(1173.25,2894.30)" font-size="37.95" fill="#4d4d4d"><tspan x="-81.65" textLength="162.74" lengthAdjust="spacingAndGlyphs">8368000</tspan></text>
<rect x="1618.50" y="2847.10" width="4.2" height="11.30" fill="#333"/>
<text transform="translate(1620.90,2894.30)" font-size="37.95" fill="#4d4d4d"><tspan x="-81.65" textLength="162.74" lengthAdjust="spacingAndGlyphs">8372000</tspan></text>
<rect x="2066.15" y="2847.10" width="4.2" height="11.30" fill="#333"/>
<text transform="translate(2068.55,2894.30)" font-size="37.95" fill="#4d4d4d"><tspan x="-81.65" textLength="162.74" lengthAdjust="spacingAndGlyphs">8376000</tspan></text>
<rect x="158" y="2648.2" width="4" height="198.8" fill="#000"/>
<text transform="translate(1528.50,2944.50)" font-size="47.43" fill="#000"><tspan x="-204.53" textLength="103.49" lengthAdjust="spacingAndGlyphs">chrX</tspan> <tspan x="-85.48" textLength="182.51" lengthAdjust="spacingAndGlyphs">position</tspan> <tspan x="110.59" textLength="94.38" lengthAdjust="spacingAndGlyphs">(bp)</tspan></text>
<rect x="1058.4" y="2800.10" width="941.2" height="4.2" fill="#00008B"/>
<rect x="1058.4" y="2789.00" width="13.6" height="26.5" fill="#00008B"/>
<rect x="1345.6" y="2789.00" width="13.4" height="26.5" fill="#00008B"/>
<rect x="1410.4" y="2789.00" width="12.6" height="26.5" fill="#00008B"/>
<rect x="1456.7" y="2789.00" width="9.3" height="26.5" fill="#00008B"/>
<rect x="1519.7" y="2789.00" width="5.0" height="26.5" fill="#00008B"/>
<rect x="1593.9" y="2789.00" width="7.9" height="26.5" fill="#00008B"/>
<rect x="1921.1" y="2789.00" width="13.1" height="26.5" fill="#00008B"/>
<rect x="1979.6" y="2789.00" width="20.0" height="26.5" fill="#00008B"/>
<path d="M1050.0 2793.4 L1058.8 2802.2 L1050.0 2811.0 M1079.8 2793.4 L1088.6 2802.2 L1079.8 2811.0 M1109.9 2793.4 L1118.7 2802.2 L1109.9 2811.0 M1140.5 2793.4 L1149.3 2802.2 L1140.5 2811.0 M1170.6 2793.4 L1179.4 2802.2 L1170.6 2811.0 M1200.7 2793.4 L1209.5 2802.2 L1200.7 2811.0 M1230.7 2793.4 L1239.5 2802.2 L1230.7 2811.0 M1260.8 2793.4 L1269.6 2802.2 L1260.8 2811.0 M1290.5 2793.4 L1299.3 2802.2 L1290.5 2811.0 M1320.3 2793.4 L1329.1 2802.2 L1320.3 2811.0 M1379.7 2793.4 L1388.5 2802.2 L1379.7 2811.0 M1440.8 2793.4 L1449.6 2802.2 L1440.8 2811.0 M1468.0 2793.4 L1476.8 2802.2 L1468.0 2811.0 M1498.7 2793.4 L1507.5 2802.2 L1498.7 2811.0 M1529.4 2793.4 L1538.2 2802.2 L1529.4 2811.0 M1559.8 2793.4 L1568.6 2802.2 L1559.8 2811.0 M1587.3 2793.4 L1596.1 2802.2 L1587.3 2811.0 M1620.2 2793.4 L1629.0 2802.2 L1620.2 2811.0 M1650.0 2793.4 L1658.8 2802.2 L1650.0 2811.0 M1680.0 2793.4 L1688.8 2802.2 L1680.0 2811.0 M1710.1 2793.4 L1718.9 2802.2 L1710.1 2811.0 M1739.8 2793.4 L1748.6 2802.2 L1739.8 2811.0 M1769.9 2793.4 L1778.7 2802.2 L1769.9 2811.0 M1799.6 2793.4 L1808.4 2802.2 L1799.6 2811.0 M1830.0 2793.4 L1838.8 2802.2 L1830.0 2811.0 M1859.7 2793.4 L1868.5 2802.2 L1859.7 2811.0 M1890.1 2793.4 L1898.9 2802.2 L1890.1 2811.0 M1948.9 2793.4 L1957.7 2802.2 L1948.9 2811.0 M1990.4 2793.4 L1999.2 2802.2 L1990.4 2811.0" fill="none" stroke="#00008B" stroke-width="4.2" stroke-linejoin="miter"/>
<text transform="translate(1528.50,2739.50)" font-size="30.01" fill="#000"><tspan x="-43.77" textLength="88.41" lengthAdjust="spacingAndGlyphs">Ssxb9</tspan></text>
</svg>
</body></html>
